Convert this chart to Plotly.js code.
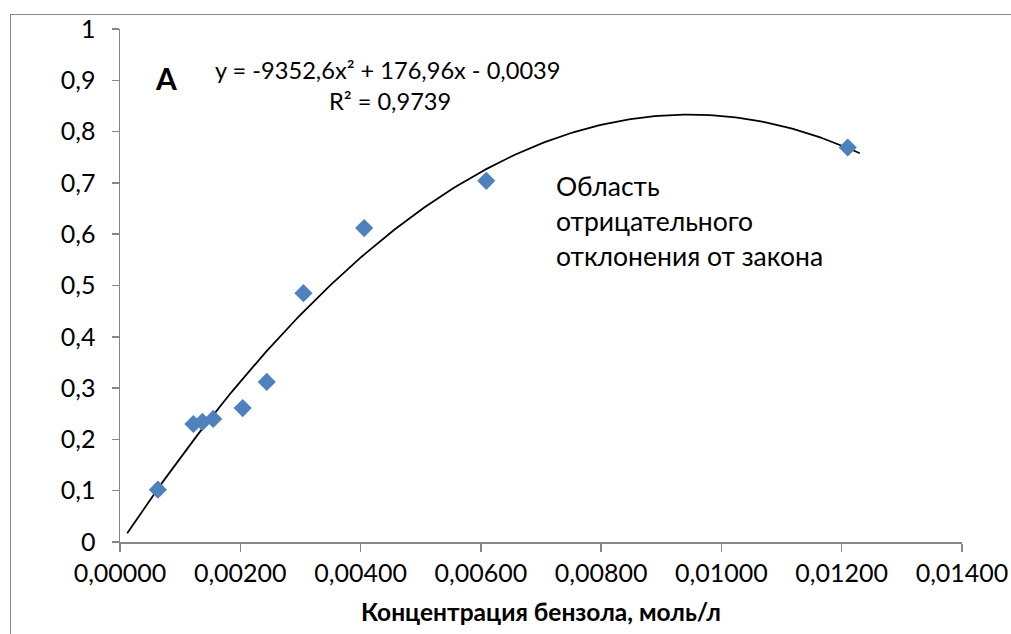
<!DOCTYPE html>
<html>
<head>
<meta charset="utf-8">
<script src="https://cdn.plot.ly/plotly-3.0.1.min.js"></script>
<style>
html,body{margin:0;padding:0;background:#fff;overflow:hidden;}
#wrap{position:relative;width:1011px;height:634px;overflow:hidden;}
#chart{width:1011px;height:634px;}
#frame{position:absolute;left:10px;top:14px;width:1100px;height:700px;border-left:1px solid #868686;border-top:1px solid #868686;pointer-events:none;}
</style>
</head>
<body>
<div id="wrap"><div id="chart"></div><div id="frame"></div></div>
<script>
// Measured data (concentration of benzene, mol/L vs. absorbance)
const concentration = [0.00063, 0.00122, 0.00137, 0.00155, 0.00204, 0.00244, 0.00305, 0.00406, 0.00609, 0.0121];
const absorbance    = [0.102,   0.230,   0.234,   0.240,   0.261,   0.312,   0.485,   0.612,   0.704,   0.769];

// Polynomial trendline coefficients shown on the chart
const trendA = -9352.6, trendB = 176.96, trendC = -0.0039;
const trendXStart = 0.00012, trendXEnd = 0.0123;

const xTickVals = [0, 0.002, 0.004, 0.006, 0.008, 0.010, 0.012, 0.014];
const xTickText = ['0,00000','0,00200','0,00400','0,00600','0,00800','0,01000','0,01200','0,01400'];
const yTickVals = [0,0.1,0.2,0.3,0.4,0.5,0.6,0.7,0.8,0.9,1];
const yTickText = ['0','0,1','0,2','0,3','0,4','0,5','0,6','0,7','0,8','0,9','1'];

const eqText = 'y = -9352,6x² + 176,96x - 0,0039';
const r2Text = 'R² = 0,9739';
const panelLabel = 'A';
const noteLines = ['Область', 'отрицательного', 'отклонения от закона'];
const xTitle = 'Концентрация бензола, моль/л';

const trendX = [], trendY = [];
const N = 200;
for (let i = 0; i <= N; i++) {
  const x = trendXStart + (trendXEnd - trendXStart) * i / N;
  trendX.push(x);
  trendY.push(trendA * x * x + trendB * x + trendC);
}

const font = 'Lato, "Open Sans", sans-serif';
const axisColor = '#868686';

const traces = [
  {x: trendX, y: trendY, mode: 'lines', line: {color: '#000', width: 1.75}, hoverinfo: 'skip', showlegend: false},
  {x: concentration, y: absorbance, mode: 'markers',
   marker: {symbol: 'diamond', size: 14, color: '#4F81BD'}, showlegend: false}
];

const annotations = [
  {x: 0.00154, y: 0.9207, xref: 'x', yref: 'y', text: eqText, showarrow: false, xanchor: 'left', yanchor: 'middle', font: {family: font, size: 23.6, color: '#000'}},
  {x: 0.00344, y: 0.8603, xref: 'x', yref: 'y', text: r2Text, showarrow: false, xanchor: 'left', yanchor: 'middle', font: {family: font, size: 23.6, color: '#000'}},
  {x: 0.00076, y: 0.905, xref: 'x', yref: 'y', text: '<b>' + panelLabel + '</b>', showarrow: false, xanchor: 'center', yanchor: 'middle', font: {family: font, size: 30, color: '#000'}}
];
const noteY = [0.6945, 0.6263, 0.5581];
noteLines.forEach((t, i) => annotations.push({x: 0.00721, y: noteY[i], xref: 'x', yref: 'y', text: t, showarrow: false, xanchor: 'left', yanchor: 'middle', font: {family: font, size: 26.5, color: '#000'}}));

const layout = {
  width: 1011, height: 634,
  margin: {l: 120, r: 49, t: 29, b: 92, pad: 0},
  paper_bgcolor: '#fff', plot_bgcolor: '#fff',
  font: {family: font, size: 25, color: '#000'},
  xaxis: {
    range: [0, 0.014], tickvals: xTickVals, ticktext: xTickText,
    showgrid: false, zeroline: false, showline: true, linecolor: axisColor, linewidth: 1.5,
    ticks: 'outside', ticklen: 8, tickcolor: axisColor, tickwidth: 1.5,
    tickfont: {family: font, size: 25, color: '#000'},
    title: {text: '<b>' + xTitle + '</b>', font: {family: font, size: 24.5, color: '#000'}, standoff: 18}
  },
  yaxis: {
    range: [0, 1], tickvals: yTickVals, ticktext: yTickText,
    showgrid: false, zeroline: false, showline: true, linecolor: axisColor, linewidth: 1.5,
    ticks: 'outside', ticklen: 7, tickcolor: axisColor, tickwidth: 1.5, ticklabelstandoff: 11,
    tickfont: {family: font, size: 25, color: '#000'}
  },
  annotations: annotations
};

Plotly.newPlot('chart', traces, layout, {displayModeBar: false, staticPlot: true});
</script>
</body>
</html>
